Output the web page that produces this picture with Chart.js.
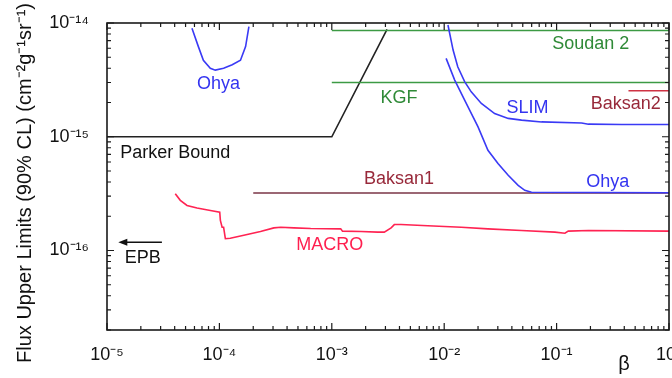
<!DOCTYPE html>
<html>
<head>
<meta charset="utf-8">
<script src="https://cdn.jsdelivr.net/npm/chart.js@4.4.1/dist/chart.umd.min.js"></script>
<style>
  html, body { margin: 0; padding: 0; background: #fff; }
  canvas { display: block; }
</style>
</head>
<body>
<canvas id="fluxChart" width="672" height="378"></canvas>
<script>
// monopole flux upper limits (90% CL) vs beta
var parkerBeta = [1e-5, 1e-3, 3.1e-3];
var parkerFlux = [1e-15, 1e-15, 8.8e-15];

var soudanBeta = [1e-3, 1];
var soudanFlux = [8.6e-15, 8.6e-15];

var kgfBeta = [1e-3, 1];
var kgfFlux = [3.0e-15, 3.0e-15];

var ohyaLowBeta = [5.7e-5, 6.5e-5, 7.2e-5, 8.3e-5, 9.2e-5, 1.09e-4, 1.3e-4, 1.54e-4, 1.71e-4, 1.83e-4];
var ohyaLowFlux = [9.0e-15, 6.2e-15, 4.7e-15, 4.0e-15, 3.85e-15, 4.0e-15, 4.3e-15, 4.7e-15, 6.2e-15, 9.3e-15];

var slimBeta = [1.08e-2, 1.2e-2, 1.32e-2, 1.52e-2, 1.74e-2, 2.14e-2, 2.81e-2, 3.71e-2, 4.88e-2, 7.35e-2, 0.167, 0.192, 0.38, 1];
var slimFlux = [9.6e-15, 5.78e-15, 4.12e-15, 3.05e-15, 2.48e-15, 1.96e-15, 1.6e-15, 1.45e-15, 1.4e-15, 1.35e-15, 1.32e-15, 1.29e-15, 1.28e-15, 1.28e-15];

var ohyaHighBeta = [1.04e-2, 1.24e-2, 1.52e-2, 2.0e-2, 2.45e-2, 3.01e-2, 3.71e-2, 4.55e-2, 5.21e-2, 5.98e-2, 1];
var ohyaHighFlux = [4.89e-15, 3.15e-15, 2.1e-15, 1.22e-15, 7.6e-16, 5.81e-16, 4.58e-16, 3.74e-16, 3.38e-16, 3.25e-16, 3.22e-16];

var baksan1Beta = [2.0e-4, 1];
var baksan1Flux = [3.2e-16, 3.2e-16];

var baksan2Beta = [0.436, 1];
var baksan2Flux = [2.54e-15, 2.54e-15];

var macroBeta = [4.05e-5, 4.49e-5, 5.15e-5, 6.32e-5, 8.32e-5, 1.007e-4, 1.02e-4, 1.057e-4, 1.09e-4, 1.13e-4, 1.25e-4, 1.65e-4,
  2.32e-4, 3.05e-4, 3.51e-4, 4.6e-4, 6.49e-4, 1.2e-3, 1.245e-3, 1.82e-3, 2.56e-3, 2.93e-3, 3.37e-3, 3.6e-3, 4.13e-3,
  7.14e-3, 1.42e-2, 2.45e-2, 4.86e-2, 9.66e-2, 0.1186, 0.127, 0.192, 1];
var macroFlux = [3.16e-16, 2.76e-16, 2.49e-16, 2.36e-16, 2.25e-16, 2.17e-16, 1.84e-16, 1.6e-16, 1.6e-16, 1.27e-16, 1.28e-16, 1.36e-16,
  1.47e-16, 1.58e-16, 1.6e-16, 1.58e-16, 1.56e-16, 1.55e-16, 1.48e-16, 1.47e-16, 1.45e-16, 1.45e-16, 1.58e-16, 1.69e-16, 1.69e-16,
  1.65e-16, 1.6e-16, 1.55e-16, 1.5e-16, 1.45e-16, 1.42e-16, 1.48e-16, 1.5e-16, 1.48e-16];

var yTitle = 'Flux Upper Limits (90% CL) (cm\u207B\u00B2g\u207B\u00B9sr\u207B\u00B9)';
var xTitle = '\u03B2';

// curve labels, placed in data coordinates
var notes = [
  { text: 'Ohya', beta: 9.8e-5, flux: 2.9e-15, color: '#3434f0' },
  { text: 'Parker Bound', beta: 1.31e-5, flux: 7.2e-16, color: '#111', align: 'left' },
  { text: 'KGF', beta: 3.96e-3, flux: 2.21e-15, color: '#2f8a37' },
  { text: 'Soudan 2', beta: 0.201, flux: 6.5e-15, color: '#2f8a37' },
  { text: 'SLIM', beta: 5.5e-2, flux: 1.8e-15, color: '#3434f0' },
  { text: 'Baksan2', beta: 0.413, flux: 1.93e-15, color: '#98293a' },
  { text: 'Baksan1', beta: 3.96e-3, flux: 4.23e-16, color: '#98293a' },
  { text: 'Ohya', beta: 0.285, flux: 4.0e-16, color: '#3434f0' },
  { text: 'MACRO', beta: 9.6e-4, flux: 1.11e-16, color: '#ff1f4f' },
  { text: 'EPB', beta: 2.08e-5, flux: 8.5e-17, color: '#111' }
];
var epbArrow = { from: 3.08e-5, to: 1.26e-5, flux: 1.18e-16 };

function pairs(xs, ys) {
  var out = [];
  for (var i = 0; i < xs.length; i++) out.push({ x: xs[i], y: ys[i] });
  return out;
}

function line(data, color) {
  return { data: data, borderColor: color, backgroundColor: color, borderWidth: 1.6,
    pointRadius: 0, showLine: true, tension: 0 };
}

var supDigits = { '-': '\u207B', '0': '\u2070', '1': '\u00B9', '2': '\u00B2', '3': '\u00B3', '4': '\u2074',
  '5': '\u2075', '6': '\u2076', '7': '\u2077', '8': '\u2078', '9': '\u2079' };

function decadeLabel(v) {
  var e = Math.log10(v);
  var r = Math.round(e);
  if (Math.abs(e - r) > 1e-6) return '';
  return '10' + String(r).split('').map(function (c) { return supDigits[c]; }).join('');
}

function logSteps(scale) {
  var out = [];
  var lo = Math.floor(Math.log10(scale.min)), hi = Math.ceil(Math.log10(scale.max));
  for (var e = lo; e <= hi; e++) {
    for (var m = 1; m < 10; m++) {
      var v = m * Math.pow(10, e);
      if (v >= scale.min * 0.999 && v <= scale.max * 1.001) out.push({ v: v, major: m === 1 });
    }
  }
  return out;
}

var frameAndNotes = {
  id: 'frameAndNotes',
  afterDatasetsDraw: function (chart) {
    var ctx = chart.ctx, a = chart.chartArea;
    var xs = chart.scales.x, ys = chart.scales.y;
    ctx.save();
    ctx.strokeStyle = '#1a1a1a';
    ctx.lineWidth = 1.6;
    ctx.strokeRect(a.left, a.top, a.right - a.left, a.bottom - a.top);

    ctx.lineWidth = 1.2;
    ctx.beginPath();
    logSteps(xs).forEach(function (t) {
      var px = xs.getPixelForValue(t.v), len = t.major ? 7 : 4;
      ctx.moveTo(px, a.bottom); ctx.lineTo(px, a.bottom - len);
      ctx.moveTo(px, a.top); ctx.lineTo(px, a.top + len);
    });
    logSteps(ys).forEach(function (t) {
      var py = ys.getPixelForValue(t.v), len = t.major ? 7 : 4;
      ctx.moveTo(a.left, py); ctx.lineTo(a.left + len, py);
      ctx.moveTo(a.right, py); ctx.lineTo(a.right - len, py);
    });
    ctx.stroke();

    ctx.font = '18px "Liberation Sans", Arial, sans-serif';
    ctx.textBaseline = 'middle';
    notes.forEach(function (n) {
      ctx.fillStyle = n.color;
      ctx.textAlign = n.align || 'center';
      ctx.fillText(n.text, xs.getPixelForValue(n.beta), ys.getPixelForValue(n.flux));
    });

    // EPB arrow pointing to lower beta
    var ax1 = xs.getPixelForValue(epbArrow.from), ax2 = xs.getPixelForValue(epbArrow.to);
    var ay = ys.getPixelForValue(epbArrow.flux);
    ctx.strokeStyle = '#111';
    ctx.fillStyle = '#111';
    ctx.lineWidth = 1.6;
    ctx.beginPath();
    ctx.moveTo(ax1, ay); ctx.lineTo(ax2 + 6, ay);
    ctx.stroke();
    ctx.beginPath();
    ctx.moveTo(ax2, ay); ctx.lineTo(ax2 + 9, ay - 3.5); ctx.lineTo(ax2 + 9, ay + 3.5);
    ctx.closePath();
    ctx.fill();

    // axis titles
    ctx.fillStyle = '#111';
    ctx.textAlign = 'center';
    ctx.font = '20px "Liberation Sans", Arial, sans-serif';
    ctx.fillText(xTitle, a.right - 45, 364);
    ctx.translate(25, 183);
    ctx.rotate(-Math.PI / 2);
    ctx.font = '20px "Liberation Sans", Arial, sans-serif';
    ctx.fillText(yTitle, 0, 0);
    ctx.restore();
  }
};

var tickFont = { family: '"Liberation Sans", Arial, sans-serif', size: 18 };

new Chart(document.getElementById('fluxChart'), {
  type: 'scatter',
  data: {
    datasets: [
      line(pairs(ohyaHighBeta, ohyaHighFlux), '#3a3af5'),
      line(pairs(slimBeta, slimFlux), '#3a3af5'),
      line(pairs(ohyaLowBeta, ohyaLowFlux), '#3a3af5'),
      line(pairs(macroBeta, macroFlux), '#ff2352'),
      line(pairs(baksan1Beta, baksan1Flux), '#7a3546'),
      line(pairs(baksan2Beta, baksan2Flux), '#cf3344'),
      line(pairs(kgfBeta, kgfFlux), '#3c9a44'),
      line(pairs(soudanBeta, soudanFlux), '#3c9a44'),
      line(pairs(parkerBeta, parkerFlux), '#222')
    ]
  },
  options: {
    responsive: false,
    animation: false,
    devicePixelRatio: 1,
    layout: { padding: { left: 0, right: 3, top: 23, bottom: 0 } },
    plugins: { legend: { display: false }, tooltip: { enabled: false } },
    scales: {
      x: {
        type: 'logarithmic',
        min: 1e-5,
        max: 1,
        grid: { display: false },
        border: { display: false },
        ticks: {
          autoSkip: false, maxRotation: 0, padding: 6, color: '#111', font: tickFont,
          callback: function (v) { return decadeLabel(v); }
        },
        afterFit: function (s) { s.height = 48; s.paddingLeft = 0; s.paddingRight = 0; }
      },
      y: {
        type: 'logarithmic',
        min: 2e-17,
        max: 1e-14,
        grid: { display: false },
        border: { display: false },
        ticks: {
          autoSkip: false, padding: 10, color: '#111', font: tickFont,
          callback: function (v) { return decadeLabel(v); }
        },
        afterFit: function (s) { s.width = 107; s.paddingTop = 0; s.paddingBottom = 0; }
      }
    }
  },
  plugins: [frameAndNotes]
});
</script>
</body>
</html>
